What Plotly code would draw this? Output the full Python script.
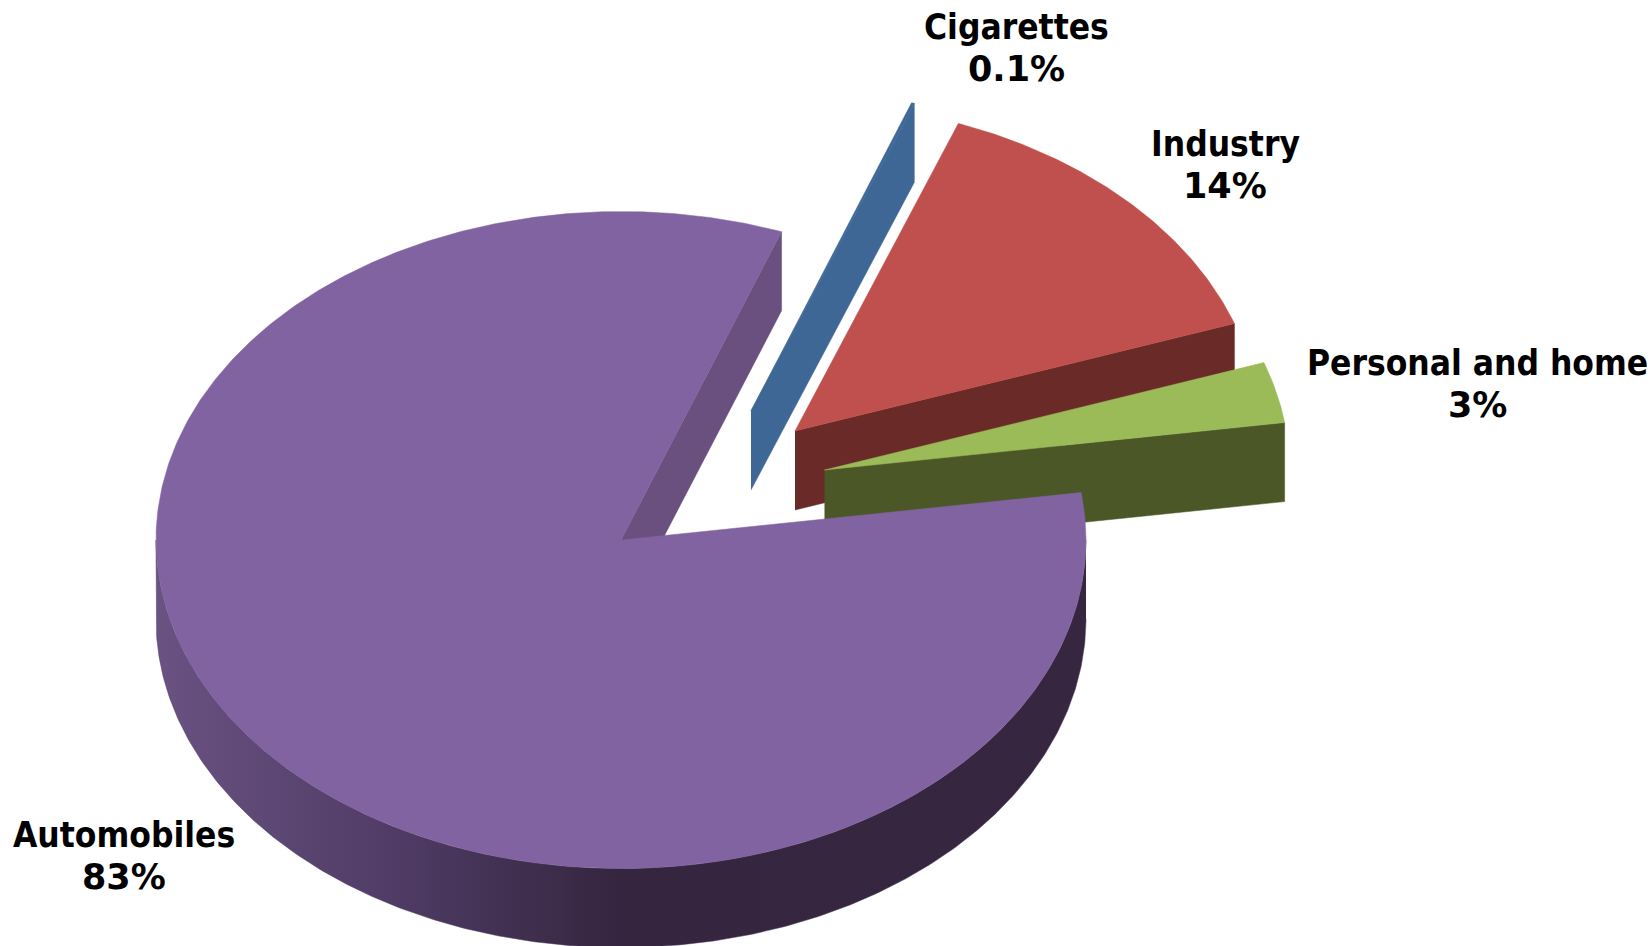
import numpy as np
import plotly.graph_objects as go

# Pie data, in clockwise drawing order
categories = ["Cigarettes", "Industry", "Personal and home", "Automobiles"]
shares = [0.1, 14, 3, 83]
share_labels = ["0.1%", "14%", "3%", "83%"]

# Projection of the tilted pie, in canvas units
CENTER = (621.0, 540.0)
RADIUS_X = 465.0
RADIUS_Y = 328.5
DEPTH = 79.0
START_ANGLE = 69.8

# Styling per category
EXPLODE = {
    "Cigarettes": (130, -129),
    "Industry": (174, -109),
    "Personal and home": (203.5, -70),
    "Automobiles": (0, 0),
}
TOP_COLOR = {
    "Cigarettes": "#3e6796",
    "Industry": "#c0504d",
    "Personal and home": "#9bbb59",
    "Automobiles": "#8263a1",
}
WALL_COLOR = {
    "Cigarettes": "#3e6796",
    "Industry": "#692a28",
    "Personal and home": "#4b5726",
    "Automobiles": "#69507f",
}
RIM_SCALE = [[0.0, "#6a5282"], [0.25, "#503c66"], [0.5, "#35253f"], [1.0, "#36263f"]]

# Label centre x, then the y of each of its two lines
LABEL_POS = {
    "Cigarettes": (1016, 27, 69),
    "Industry": (1225, 144, 186),
    "Personal and home": (1477, 363, 405),
    "Automobiles": (124, 835, 877),
}
NAME_FONT = dict(family="DejaVu Sans Condensed, DejaVu Sans", size=35, color="#000000", weight="bold")
PCT_FONT = dict(family="DejaVu Sans", size=35, color="#000000", weight="bold")


def project(angle_deg, cx, cy):
    a = np.radians(angle_deg)
    return cx + RADIUS_X * np.cos(a), cy - RADIUS_Y * np.sin(a)


def polygon(xs, ys, color=None, gradient=None):
    kw = dict(fillgradient=gradient) if gradient else dict(fillcolor=color)
    return go.Scatter(
        x=list(xs), y=list(ys), mode="lines", fill="toself",
        line=dict(width=0.5, color=color or "#4b3a5c"),
        hoverinfo="skip", showlegend=False, **kw,
    )


fig = go.Figure()
total = sum(shares)
angle = START_ANGLE
for name, value in zip(categories, shares):
    sweep = value / total * 360.0
    begin, end = angle, angle - sweep
    angle = end
    cx = CENTER[0] + EXPLODE[name][0]
    cy = CENTER[1] + EXPLODE[name][1]
    arc = np.linspace(begin, end, max(int(sweep * 2), 3))

    # Cut face along the clockwise edge of the slice
    ex, ey = project(end, cx, cy)
    fig.add_trace(polygon(
        [cx, ex, ex, cx], [cy, ey, ey + DEPTH, cy + DEPTH], color=WALL_COLOR[name]
    ))

    # Outer rim, only where the arc faces the viewer
    candidates = np.arange(0.0, -180.5, -0.5)
    front = candidates[(candidates >= end) & (candidates <= begin)]
    if front.size:
        fx, fy = project(front, cx, cy)
        fig.add_trace(polygon(
            np.concatenate([fx, fx[::-1]]),
            np.concatenate([fy, fy[::-1] + DEPTH]),
            gradient=dict(type="horizontal", colorscale=RIM_SCALE),
        ))

    # Top face
    tx, ty = project(arc, cx, cy)
    fig.add_trace(polygon(
        np.concatenate([[cx], tx, [cx]]), np.concatenate([[cy], ty, [cy]]), color=TOP_COLOR[name]
    ))

for name, pct in zip(categories, share_labels):
    lx, ly_name, ly_pct = LABEL_POS[name]
    for text, ly, font in ((name, ly_name, NAME_FONT), (pct, ly_pct, PCT_FONT)):
        fig.add_annotation(
            x=lx, y=ly, text=text, showarrow=False, font=font,
            align="center", xanchor="center", yanchor="middle",
        )

fig.update_layout(
    width=1651, height=946, margin=dict(l=0, r=0, t=0, b=0),
    paper_bgcolor="white", plot_bgcolor="white", showlegend=False,
    xaxis=dict(range=[0, 1651], visible=False, fixedrange=True),
    yaxis=dict(range=[946, 0], visible=False, fixedrange=True),
)
fig.write_html("out.html", config=dict(displayModeBar=False))
